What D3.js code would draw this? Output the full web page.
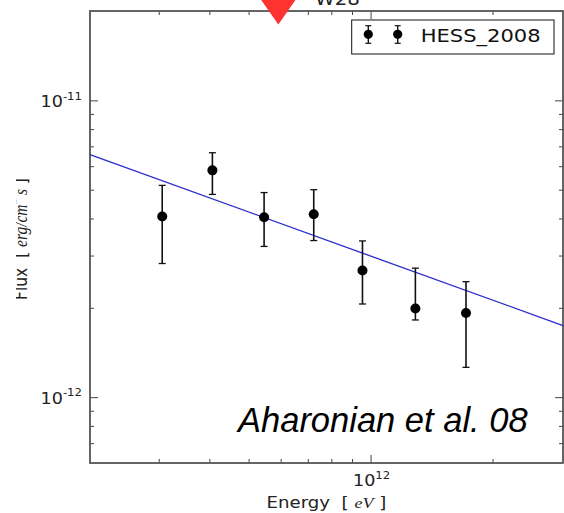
<!DOCTYPE html>
<html>
<head>
<meta charset="utf-8">
<script src="https://cdn.jsdelivr.net/npm/d3@7"></script>
<style>
  body { margin: 0; background: #fff; }
  svg { display: block; }
</style>
</head>
<body>
<div id="chart"></div>
<script>
// HESS 2008 points (E in eV, E^2 dN/dE in erg/cm^2 s)
var energy = [3.06e11, 4.07e11, 5.46e11, 7.24e11, 9.55e11, 1.29e12, 1.72e12];
var flux   = [4.06e-12, 5.81e-12, 4.04e-12, 4.13e-12, 2.67e-12, 1.99e-12, 1.92e-12];
var fluxHi = [5.17e-12, 6.66e-12, 4.89e-12, 5.00e-12, 3.36e-12, 2.72e-12, 2.45e-12];
var fluxLo = [2.82e-12, 4.82e-12, 3.22e-12, 3.37e-12, 2.06e-12, 1.82e-12, 1.26e-12];

// fitted power law, end points
var fitEnergy = [2.03e11, 2.985e12];
var fitFlux   = [6.56e-12, 1.743e-12];

// red marker at the top
var markerEnergy = [5.92e11];
var markerFlux   = [1.80e-11];

var xMajor = [1e12], xMinor = [3e11, 4e11, 5e11, 6e11, 7e11, 8e11, 9e11, 2e12];
var yMajor = [1e-12, 1e-11];
var yMinor = [7e-13, 8e-13, 9e-13, 2e-12, 3e-12, 4e-12, 5e-12, 6e-12, 7e-12, 8e-12, 9e-12];
var yTickText = ["-12", "-11"], xTickText = ["12"];

var width = 564, height = 513;
var pLeft = 90, pRight = 563, pTop = 11, pBottom = 463;
var sx = 1.17; // matplotlib text came out stretched

var svg = d3.select("#chart").append("svg")
    .attr("width", width).attr("height", height);

var x = d3.scaleLog().domain([2.03e11, 2.985e12]).range([pLeft, pRight]);
var y = d3.scaleLog().domain([6e-13, 2e-11]).range([pBottom, pTop]);

var sans = "DejaVu Sans";

// ticks, all inward
function tickAxis(axis, vals, size, tr) {
    var g = svg.append("g").attr("transform", tr)
        .call(axis.tickValues(vals).tickSizeInner(-size).tickSizeOuter(0).tickFormat(""));
    g.select(".domain").remove();
    g.selectAll("line").attr("stroke", "#444").attr("stroke-width", 1);
}
tickAxis(d3.axisBottom(x), xMajor, 8, "translate(0," + pBottom + ")");
tickAxis(d3.axisBottom(x), xMinor, 4, "translate(0," + pBottom + ")");
tickAxis(d3.axisTop(x), xMajor, 8, "translate(0," + pTop + ")");
tickAxis(d3.axisTop(x), xMinor, 4, "translate(0," + pTop + ")");
tickAxis(d3.axisLeft(y), yMajor, 8, "translate(" + pLeft + ",0)");
tickAxis(d3.axisLeft(y), yMinor, 4, "translate(" + pLeft + ",0)");
tickAxis(d3.axisRight(y), yMajor, 8, "translate(" + pRight + ",0)");
tickAxis(d3.axisRight(y), yMinor, 4, "translate(" + pRight + ",0)");

// frame
svg.append("rect")
    .attr("x", pLeft).attr("y", pTop)
    .attr("width", pRight - pLeft).attr("height", pBottom - pTop)
    .attr("fill", "none").attr("stroke", "#555").attr("stroke-width", 1.8);

// tick labels
yMajor.forEach(function(v, i) {
    var t = svg.append("text")
        .attr("transform", "translate(82," + (y(v) + 6.7) + ") scale(" + sx + ",1)")
        .attr("text-anchor", "end")
        .attr("font-family", sans).attr("font-size", 15).attr("fill", "#222");
    t.append("tspan").text("10");
    t.append("tspan").attr("dy", -7.5).attr("font-size", 10).text(yTickText[i]);
});
xMajor.forEach(function(v, i) {
    var t = svg.append("text")
        .attr("transform", "translate(" + (x(v) + 1) + ",486) scale(" + sx + ",1)")
        .attr("text-anchor", "middle")
        .attr("font-family", sans).attr("font-size", 15).attr("fill", "#222");
    t.append("tspan").text("10");
    t.append("tspan").attr("dy", -7.5).attr("font-size", 10).text(xTickText[i]);
});

// axis titles
var xl = svg.append("text")
    .attr("transform", "translate(" + ((pLeft + pRight) / 2) + ",508) scale(" + sx + ",1)")
    .attr("text-anchor", "middle")
    .attr("font-family", sans).attr("font-size", 15.5).attr("fill", "#222")
    .attr("xml:space", "preserve");
xl.append("tspan").text("Energy  [ ");
xl.append("tspan").attr("font-family", "Liberation Serif").attr("font-style", "italic").text("eV");
xl.append("tspan").text(" ]");

// y title: its top part is cut off by the left edge in the original
svg.append("clipPath").attr("id", "ylclip")
    .append("rect").attr("x", 16).attr("y", 0).attr("width", 60).attr("height", height);
var yl = svg.append("g").attr("clip-path", "url(#ylclip)")
    .append("text")
    .attr("transform", "translate(26.5,239) scale(" + sx + ",1) rotate(-90)")
    .attr("text-anchor", "middle")
    .attr("font-family", sans).attr("font-size", 15.5).attr("fill", "#222")
    .attr("xml:space", "preserve");
yl.append("tspan").text("Flux  [ ");
yl.append("tspan").attr("font-family", "Liberation Serif").attr("font-style", "italic").text("erg/cm");
yl.append("tspan").attr("dy", -9).attr("font-size", 11).attr("font-family", "Liberation Serif").text("2");
yl.append("tspan").attr("dy", 9).attr("font-family", "Liberation Serif").attr("font-style", "italic").text(" s");
yl.append("tspan").text(" ]");

// title, cut by the top edge
svg.append("text")
    .attr("transform", "translate(315,5) scale(" + sx + ",1)")
    .attr("font-family", sans).attr("font-size", 17).attr("fill", "#222")
    .text("W28");

// fit line
var line = d3.line().x(function(d) { return x(d[0]); }).y(function(d) { return y(d[1]); });
svg.append("path")
    .datum(d3.zip(fitEnergy, fitFlux))
    .attr("d", line)
    .attr("fill", "none").attr("stroke", "#2a2ad0").attr("stroke-width", 1.3);

// error bars + points
var pts = svg.append("g").selectAll("g")
    .data(d3.range(energy.length))
    .enter().append("g");
pts.append("line")
    .attr("x1", function(i) { return x(energy[i]); })
    .attr("x2", function(i) { return x(energy[i]); })
    .attr("y1", function(i) { return y(fluxHi[i]); })
    .attr("y2", function(i) { return y(fluxLo[i]); })
    .attr("stroke", "#111").attr("stroke-width", 1.6);
[fluxHi, fluxLo].forEach(function(arr) {
    pts.append("line")
        .attr("x1", function(i) { return x(energy[i]) - 3.5; })
        .attr("x2", function(i) { return x(energy[i]) + 3.5; })
        .attr("y1", function(i) { return y(arr[i]); })
        .attr("y2", function(i) { return y(arr[i]); })
        .attr("stroke", "#111").attr("stroke-width", 1.3);
});
pts.append("circle")
    .attr("cx", function(i) { return x(energy[i]); })
    .attr("cy", function(i) { return y(flux[i]); })
    .attr("r", 5).attr("fill", "#000");

// red down-triangle
svg.selectAll(".mark").data(d3.zip(markerEnergy, markerFlux)).enter()
    .append("path")
    .attr("transform", function(d) { return "translate(" + x(d[0]) + "," + y(d[1]) + ")"; })
    .attr("d", "M0,0L-23.7,-34L23.7,-34Z")
    .attr("fill", "#ff3232");

// legend
var lg = svg.append("g");
lg.append("rect").attr("x", 351.7).attr("y", 20).attr("width", 202.3).attr("height", 34)
    .attr("fill", "#fff").attr("stroke", "#111").attr("stroke-width", 1);
[368.3, 397.7].forEach(function(cx) {
    lg.append("line").attr("x1", cx).attr("x2", cx).attr("y1", 25.7).attr("y2", 43.3)
        .attr("stroke", "#111").attr("stroke-width", 1.4);
    [25.7, 43.3].forEach(function(cy) {
        lg.append("line").attr("x1", cx - 3).attr("x2", cx + 3).attr("y1", cy).attr("y2", cy)
            .attr("stroke", "#111").attr("stroke-width", 1.2);
    });
    lg.append("circle").attr("cx", cx).attr("cy", 34.3).attr("r", 4.6).attr("fill", "#000");
});
lg.append("text")
    .attr("transform", "translate(420.7,41.7) scale(" + sx + ",1)")
    .attr("font-family", sans).attr("font-size", 18).attr("fill", "#111")
    .text("HESS_2008");

// annotation
svg.append("text")
    .attr("x", 238).attr("y", 431.7)
    .attr("font-family", "Liberation Sans").attr("font-style", "italic")
    .attr("font-size", 34.5).attr("fill", "#000")
    .text("Aharonian et al. 08");
</script>
</body>
</html>
